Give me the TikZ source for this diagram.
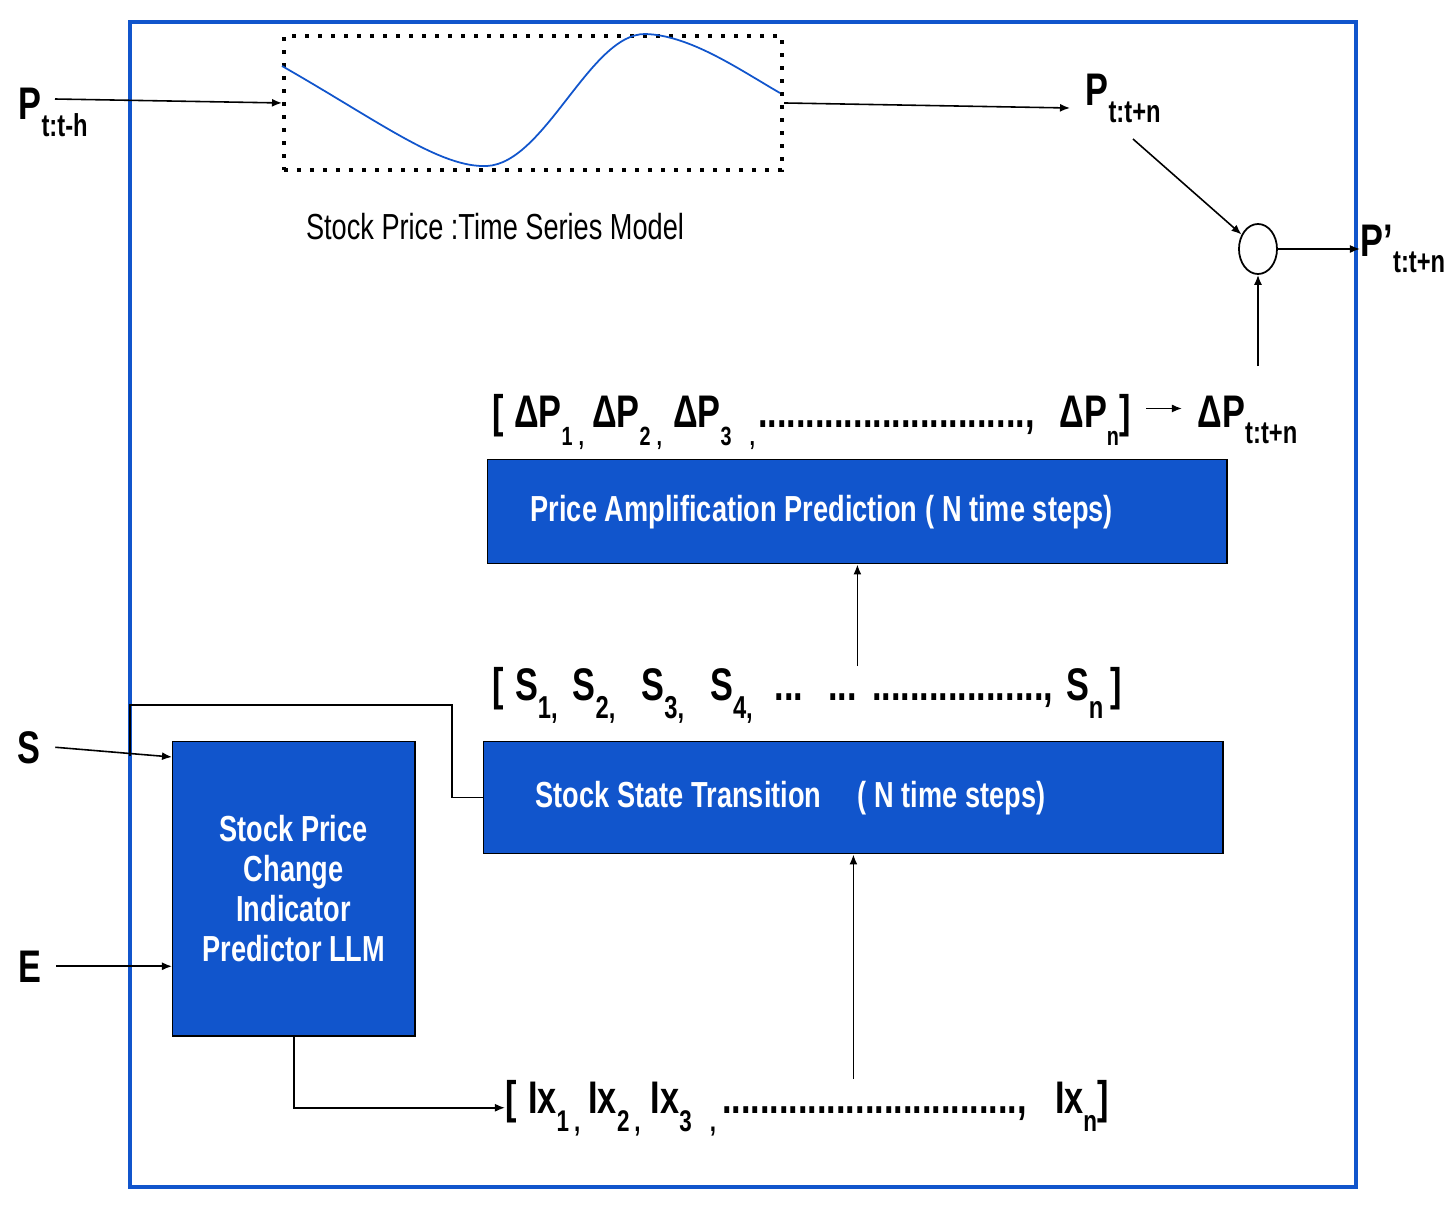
\documentclass[tikz,border=0pt]{standalone}
\usepackage{fontspec}
\setmainfont[FakeStretch=0.75]{Liberation Sans}
\usetikzlibrary{arrows.meta,shapes.geometric}

\definecolor{boxblue}{RGB}{17,85,204}
\newcommand{\lowidx}[2][7.5]{\raisebox{-0.18cm}{\fontsize{#1}{#1}\selectfont #2}}
\newcommand{\labidx}[1]{\raisebox{-0.16cm}{\fontsize{9}{9}\selectfont #1}}
\newcommand{\tightspace}{\spaceskip 2.2pt plus 1pt\relax}

\begin{document}
\begin{tikzpicture}[x=0.01cm,y=-0.01cm]
    \tikzstyle{lbl}=[font=\fontsize{13}{14}\selectfont\bfseries, inner sep=0, anchor=base west];
    \tikzstyle{bluebox}=[draw, fill=boxblue, text=white, font={\fontsize{10.3}{11.4}\selectfont\bfseries}, anchor=north west, inner ysep=0];
    \tikzstyle{arr}=[-{Latex[length=1mm,width=0.8mm]}, line width=0.45pt];

    \useasboundingbox (0,0) rectangle (1456,1218);
    \draw[boxblue, line width=1.1pt] (130,22) rectangle (1356,1187);

    % time series model
    \node[draw, dash pattern=on 1.1pt off 2.6pt, line width=1.1pt, minimum width=4.98cm, minimum height=1.34cm, anchor=north west, inner sep=0] (model) at (282,34) {};
    \draw[boxblue, line width=0.5pt] (282,66) .. controls (380,122) and (440,168) .. (487,166)
          .. controls (545,163) and (590,34) .. (645,34)
          .. controls (690,35) and (740,70) .. (780,93);
    \node[font=\fontsize{10.3}{12}\selectfont, inner sep=0] (tslbl) at (495,227) {Stock Price :Time Series Model};

    \node[lbl] (pin) at (18,120) {P\labidx{t:t-h}};
    \node[lbl] (pout) at (1085,106) {P\labidx{t:t+n}};
    \node[lbl] (pfin) at (1360,256) {P’\labidx{t:t+n}};
    \node[draw, ellipse, minimum width=0.38cm, minimum height=0.5cm, inner sep=0, line width=0.5pt] (sum) at (1258,249) {};

    \coordinate (pinarr) at (55,99);
    \coordinate (poutarr) at (1070,108);
    \coordinate (pdown) at (1133,139);
    \coordinate (dpup) at (1258,366);

    % prediction boxes
    \node[lbl] (dprow) at (492,427) {[\hspace{0.10cm}ΔP\lowidx{1\hspace{0.06cm},}\hspace{0.08cm}ΔP\lowidx{2\hspace{0.06cm},}\hspace{0.11cm}ΔP\lowidx{3\hspace{0.18cm},}\hspace{0.03cm}............................,\hspace{0.25cm}ΔP\lowidx{n}]};
    \node[lbl] (dpout) at (1197,427) {ΔP\labidx{t:t+n}};
    \node[bluebox, text width=6.53cm, inner xsep=0.43cm, minimum height=1.04cm, align=left] (pap) at (487,459) {\tightspace Price Amplification Prediction ( N time steps)};
    \node[lbl] (srow) at (492,700) {[\hspace{0.11cm}S\lowidx[9]{1,}\hspace{0.15cm}S\lowidx[9]{2,}\hspace{0.26cm}S\lowidx[9]{3,}\hspace{0.26cm}S\lowidx[9]{4,}\hspace{0.22cm}...\hspace{0.25cm}...\hspace{0.15cm}..................,\hspace{0.13cm}S\lowidx[9]{n}\hspace{0.07cm}]};
    \node[bluebox, text width=6.35cm, inner xsep=0.52cm, minimum height=1.12cm, align=left] (sst) at (483,741) {\tightspace Stock State Transition\quad( N time steps)};
    \node[bluebox, minimum width=2.42cm, minimum height=2.94cm, inner xsep=0, align=center] (llm) at (172,741) {Stock Price\\Change\\Indicator\\Predictor LLM};
    \node[lbl] (ixrow) at (505,1113) {[\hspace{0.11cm}Ix\lowidx[8.5]{1\hspace{0.05cm},}\hspace{0.08cm}Ix\lowidx[8.5]{2\hspace{0.05cm},}\hspace{0.1cm}Ix\lowidx[8.5]{3\hspace{0.18cm},}\hspace{0.06cm}...............................,\hspace{0.28cm}Ix\lowidx[8.5]{n}]};

    \node[lbl] (sin) at (17,763) {S};
    \node[lbl] (ein) at (18,982) {E};
    \coordinate (sfork) at (130,756);
    \coordinate (sbend) at (452,705);

    \draw[arr] (pinarr) -- (model.west);
    \draw[arr] (model.east) -- (poutarr);
    \draw[arr] (pdown) -- (sum);
    \draw[arr] (sum.east) -- (sum.east -| pfin.west);
    \draw[arr] (dpup) -- (sum.south);
    \draw[arr, shorten <=0.15cm, shorten >=0.15cm] ([yshift=0.13cm]dprow.east) -- ([yshift=0.13cm]dprow.east -| dpout.west);
    \draw[arr] (srow.north -| pap.south) -- (pap.south);
    \draw[arr] (ixrow.north -| sst.south) -- (sst.south);
    \draw[arr] ([xshift=0.14cm]sin.east) -- ([yshift=-0.16cm]llm.north west);
    \draw[arr] ([xshift=0.14cm]ein.east) -- (ein.east -| llm.west);
    \draw (sfork) |- (sbend) |- (sst.west);
    \draw[arr] (llm.south) |- (ixrow.west);
\end{tikzpicture}
\end{document}
